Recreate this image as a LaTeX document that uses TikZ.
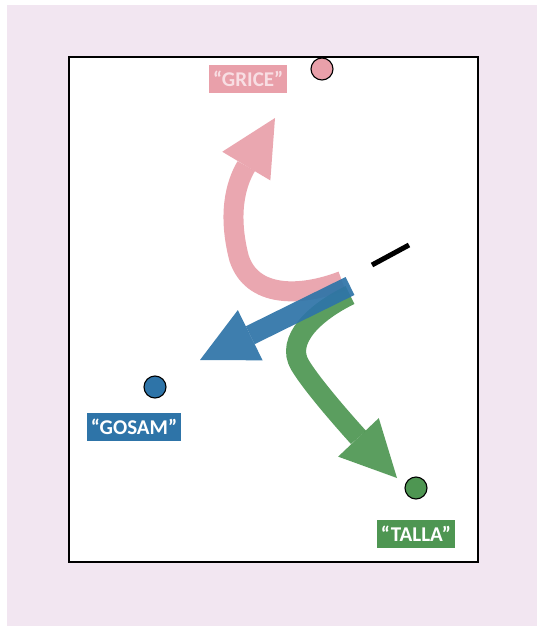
\documentclass[tikz,border=0pt]{standalone}
\usepackage{fontspec}
\setmainfont{Carlito}
\usetikzlibrary{positioning,arrows.meta}
\definecolor{bgpink}{RGB}{242,230,241}
\definecolor{gricepink}{RGB}{233,160,170}
\definecolor{gricetext}{RGB}{248,222,227}
\definecolor{gosamblue}{RGB}{46,116,168}
\definecolor{tallagreen}{RGB}{78,150,82}

\begin{document}
\begin{tikzpicture}[x=1pt,y=-1pt,
	dot/.style={circle,draw,line width=1.1pt,minimum size=22pt,inner sep=0pt},
	tag/.style={font=\bfseries\fontsize{21}{21}\selectfont,text=white,inner xsep=4pt,inner ysep=0pt,minimum height=28pt},
	bigarrow/.style={line width=20pt,opacity=.92,-{Triangle[length=56pt,width=56pt,line width=0pt]}}]
	\useasboundingbox (0,0) rectangle (537,626);
	\fill[bgpink] (7,5) rectangle (537,626);
	\draw[fill=white,line width=1.5pt] (69,57) rectangle (478,562);
	
	\node[dot,fill=gricepink] (pc) at (322,69) {};
	\node[dot,fill=gosamblue] (bc) at (155,387) {};
	\node[dot,fill=tallagreen] (gc) at (416,488) {};
	
	\node[tag,fill=gricepink,text=gricetext,left=23pt of pc,yshift=-10pt] (grice) {“GRICE”};
	\node[tag,fill=gosamblue,below=14pt of bc,xshift=-21pt] (gosam) {“GOSAM”};
	\node[tag,fill=tallagreen,below=20pt of gc] (talla) {“TALLA”};
	
	\coordinate (ptail) at (342,281);
	\coordinate (ptip) at (275,118);
	\coordinate (btail) at (350,286);
	\coordinate (btip) at (200,360);
	\coordinate (gtail) at (350,295);
	\coordinate (gtip) at (397,478);
	\coordinate (da) at (372,265);
	\coordinate (db) at (409,245);
	
	\draw[bigarrow,gricepink] (ptail) .. controls (300,297) and (252,298) .. (239,258)
		.. controls (228,215) and (235,185) .. (ptip);
	\draw[bigarrow,tallagreen] (gtail) .. controls (315,312) and (285,340) .. (300,365)
		.. controls (315,390) and (360,439) .. (gtip);
	\draw[bigarrow,gosamblue] (btail) -- (btip);
	
	\draw[line width=5pt] (da) -- (db);
\end{tikzpicture}
\end{document}
